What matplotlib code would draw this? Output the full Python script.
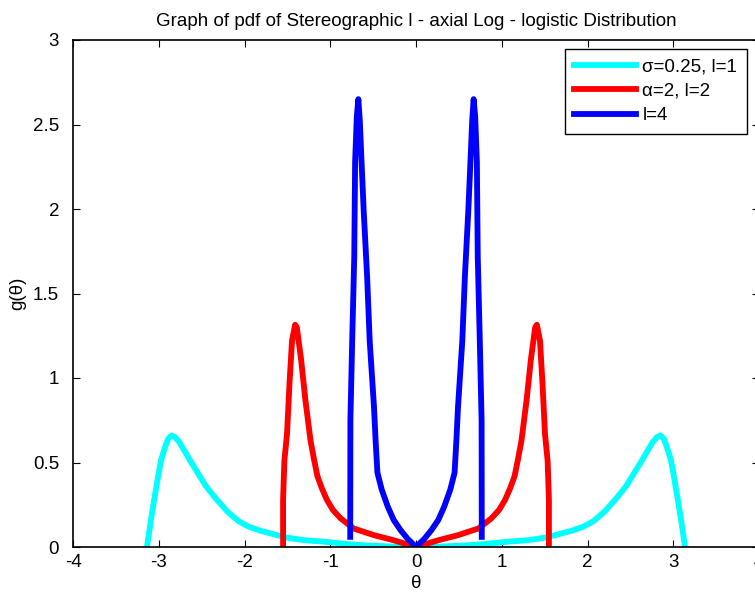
import numpy as np
import matplotlib
matplotlib.use('Agg')
import matplotlib.pyplot as plt

plt.rcParams['font.family'] = ['Liberation Sans', 'DejaVu Sans']
plt.rcParams['axes.unicode_minus'] = False

# right halves of the three curves, mirrored below
theta_c = [0, 0.3, 0.6, 0.8, 1.04, 1.3, 1.5, 1.68, 1.82, 1.95, 2.07, 2.2, 2.34, 2.45,
           2.535, 2.62, 2.69, 2.76, 2.81, 2.85, 2.89, 2.92, 2.97, 3.0, 3.06, 3.1, 3.135]
g_c = [0, 0.003, 0.01, 0.017, 0.03, 0.04, 0.055, 0.078, 0.097, 0.12, 0.153, 0.21, 0.29, 0.36,
       0.43, 0.50, 0.56, 0.62, 0.65, 0.66, 0.64, 0.60, 0.52, 0.44, 0.26, 0.13, 0.01]

theta_r = [0, 0.26, 0.49, 0.73, 0.88, 0.97, 1.04, 1.10, 1.15, 1.19, 1.23, 1.29, 1.34, 1.39, 1.41,
           1.446, 1.475, 1.504, 1.535, 1.55, 1.55]
g_r = [0, 0.04, 0.07, 0.11, 0.17, 0.22, 0.28, 0.35, 0.42, 0.52, 0.63, 0.87, 1.11, 1.30, 1.315,
       1.22, 0.97, 0.67, 0.51, 0.28, 0.02]

theta_b = [0, 0.10, 0.18, 0.26, 0.33, 0.40, 0.45, 0.47, 0.49, 0.54, 0.57, 0.61, 0.635,
           0.655, 0.672, 0.69, 0.71, 0.72, 0.745, 0.765, 0.767]
g_b = [0, 0.05, 0.10, 0.16, 0.24, 0.34, 0.44, 0.62, 0.83, 1.22, 1.60, 1.99, 2.28,
       2.52, 2.65, 2.55, 2.28, 1.72, 1.20, 0.75, 0.06]

labels = ['σ=0.25, l=1', 'α=2, l=2', 'l=4']
colors = ['#00ffff', '#ff0000', '#0000ff']
yticks = [0, 0.5, 1, 1.5, 2, 2.5, 3]
ytick_labels = ['0', '0.5', '1', '1.5', '2', '2.5', '3']


def mirror(th, g):
    th = np.array(th)
    g = np.array(g)
    return np.concatenate([-th[::-1], th[1:]]), np.concatenate([g[::-1], g[1:]])


fig = plt.figure(figsize=(7.55, 5.92), dpi=100)
ax = fig.add_axes([73 / 755, 45 / 592, 686 / 755, 507 / 592])

for (th, g), lab, col in zip([(theta_c, g_c), (theta_r, g_r), (theta_b, g_b)], labels, colors):
    x, y = mirror(th, g)
    ax.plot(x, y, color=col, linewidth=4.2, label=lab, solid_joinstyle='round')

ax.set_xlim(-4, 4)
ax.set_ylim(0, 3)
ax.set_xticks(range(-4, 5))
ax.set_yticks(yticks)
ax.set_yticklabels(ytick_labels)
ax.tick_params(direction='in', top=True, right=True, length=5, width=0.8, labelsize=13.5)
ax.tick_params(axis='x', pad=5)
ax.tick_params(axis='y', pad=10)
for s in ax.spines.values():
    s.set_linewidth(1.2)

ax.set_title('Graph of pdf of Stereographic l - axial Log - logistic Distribution', fontsize=13.5, pad=10)
ax.set_xlabel('θ', fontsize=13.5, labelpad=3)
ax.set_ylabel('g(θ)', fontsize=13.5, labelpad=5)

leg = ax.legend(loc='upper left', bbox_to_anchor=(0.717, 0.982), borderaxespad=0,
                fancybox=False, fontsize=13.5, handlelength=3.3, handletextpad=0.34,
                labelspacing=0.38, borderpad=0.5)
leg.get_frame().set_edgecolor('black')
leg.get_frame().set_linewidth(1.0)
leg.get_frame().set_alpha(1)

fig.savefig('out.png', dpi=100)
